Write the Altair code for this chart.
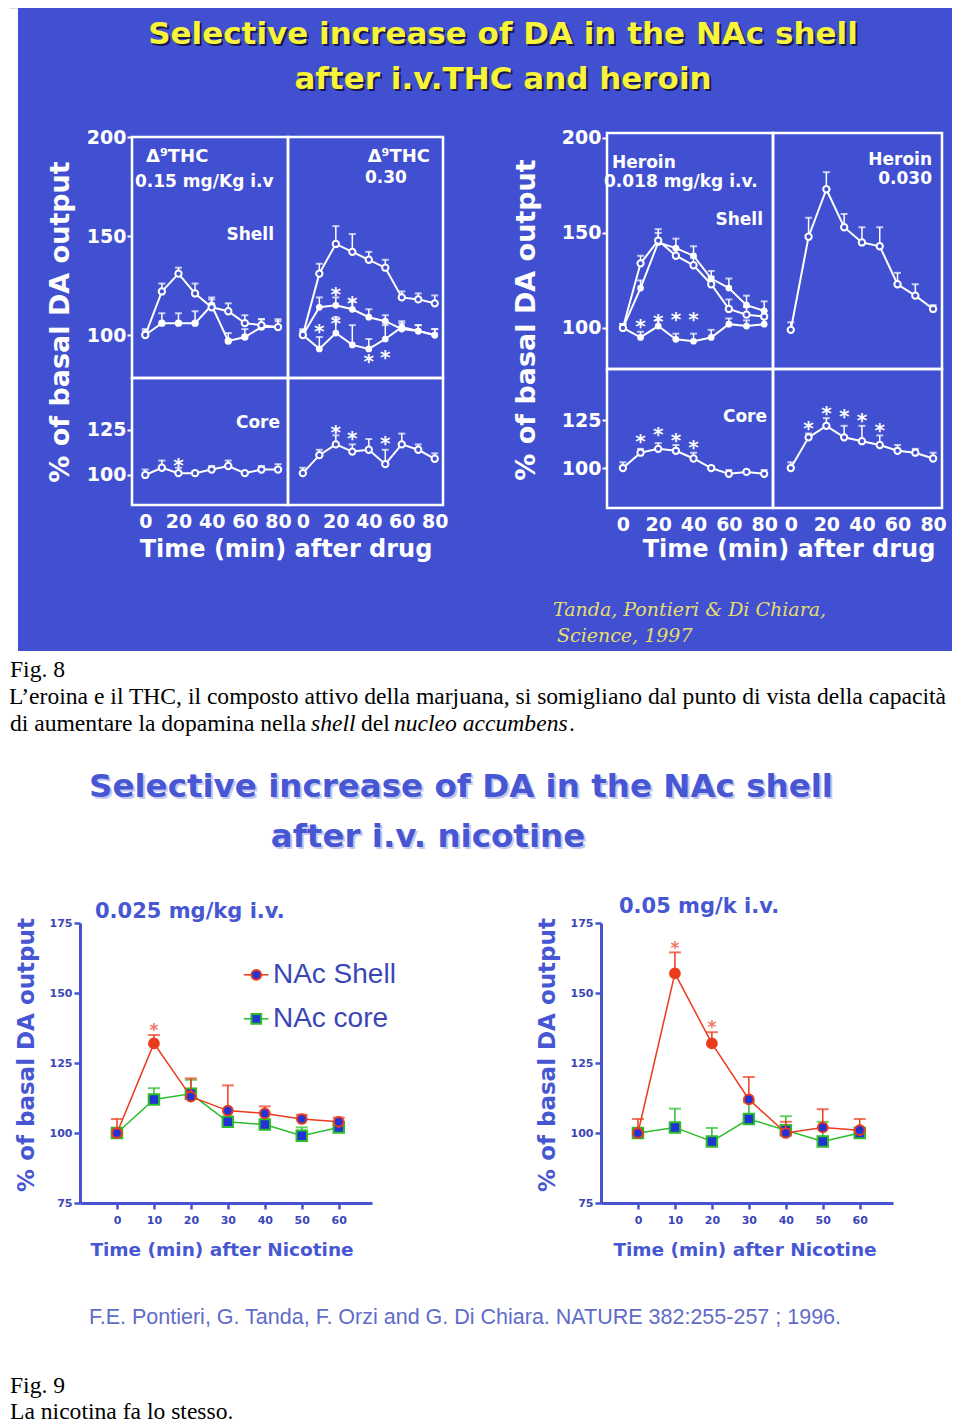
import altair as alt
import pandas as pd

W, H = 944, 1413

# ---------------------------------------------------------------- colours
BG_BLUE = "#4150d0"
WHITE = "#ffffff"
YELLOW = "#f8f43a"
SHADOW = "#1a1a4a"
CIT_YELLOW = "#e6de6c"
RED = "#ec3a1c"
GREEN = "#2bbd2b"
MARK_BLUE = "#2233d6"
AXIS_BLUE = "#4654d0"
LABEL_BLUE = "#3b46b6"
TITLE_BLUE = "#4757d3"
STAR_RED = "#f07a6a"
CITE_BLUE = "#5f6cc8"

# ---------------------------------------------------------------- Fig. 8 data
T_TOP = [0, 10, 20, 30, 40, 50, 60, 70, 80]
TOP_X_TICKS = [0, 20, 40, 60, 80]
SHELL_Y_TICKS = [100, 150, 200]
CORE_Y_TICKS = [100, 125]

THC15_SHELL_A = [100, 122, 131, 121, 114, 112, 106, 105, 104]
THC15_SHELL_A_ERR = [2, 4, 3, 5, 4, 4, 4, 3, 3]
THC15_SHELL_B = [100, 106, 106, 106, 115, 97, 99, 104, 104]
THC15_SHELL_B_ERR = [3, 5, 5, 6, 4, 4, 4, 4, 4]

THC30_SHELL_A = [100, 131, 146, 142, 138, 134, 119, 118, 116]
THC30_SHELL_A_ERR = [3, 5, 9, 9, 4, 4, 3, 3, 4]
THC30_SHELL_B = [100, 114, 115, 113, 109, 107, 103, 102, 100]
THC30_SHELL_B_ERR = [2, 5, 4, 4, 4, 3, 3, 3, 3]
THC30_SHELL_C = [100, 93, 101, 95, 93, 98, 104, 102, 100]
THC30_SHELL_C_ERR = [2, 6, 8, 10, 5, 7, 3, 3, 3]
THC30_SHELL_STAR_T = [10, 20, 20, 30, 40, 50]
THC30_SHELL_STAR_V = [105, 124, 109, 119, 90, 92]

HER18_SHELL_A = [100, 134, 146, 138, 133, 123, 110, 107, 106]
HER18_SHELL_A_ERR = [2, 4, 6, 4, 4, 4, 5, 4, 3]
HER18_SHELL_B = [100, 121, 145, 142, 138, 126, 121, 112, 109]
HER18_SHELL_B_ERR = [2, 4, 5, 5, 5, 4, 5, 5, 5]
HER18_SHELL_C = [100, 95, 101, 94, 93, 95, 102, 101, 102]
HER18_SHELL_C_ERR = [2, 3, 3, 3, 4, 4, 3, 3, 3]
HER18_SHELL_STAR_T = [10, 20, 30, 40]
HER18_SHELL_STAR_V = [104, 107, 108, 108]

HER30_SHELL = [99, 148, 173, 153, 145, 143, 123, 117, 110]
HER30_SHELL_ERR = [4, 10, 9, 7, 8, 10, 6, 6, 2]

THC15_CORE = [100, 104, 101, 101, 103, 105, 101, 103, 103]
THC15_CORE_ERR = [3, 4, 3, 1, 2, 3, 1, 2, 3]
THC15_CORE_STAR_T = [20]
THC15_CORE_STAR_V = [109]

THC30_CORE = [101, 111, 117, 113, 114, 106, 117, 114, 109]
THC30_CORE_ERR = [3, 3, 5, 4, 6, 8, 6, 3, 3]
THC30_CORE_STAR_T = [20, 30, 50]
THC30_CORE_STAR_V = [127, 124, 121]

HER18_CORE = [100, 108, 110, 109, 105, 100, 97, 98, 97]
HER18_CORE_ERR = [3, 2, 3, 3, 3, 1, 2, 1, 2]
HER18_CORE_STAR_T = [10, 20, 30, 40]
HER18_CORE_STAR_V = [117, 121, 118, 114]

HER30_CORE = [100, 116, 122, 116, 114, 112, 109, 108, 105]
HER30_CORE_ERR = [3, 2, 4, 6, 8, 5, 3, 2, 3]
HER30_CORE_STAR_T = [10, 20, 30, 40, 50]
HER30_CORE_STAR_V = [124, 132, 130, 128, 123]

# ---------------------------------------------------------------- Fig. 9 data
T_BOT = [0, 10, 20, 30, 40, 50, 60]
BOT_Y_TICKS = [75, 100, 125, 150, 175]

NIC25_SHELL = [100, 132, 113, 108, 107, 105, 104]
NIC25_SHELL_ERR = [5, 3, 6.5, 9, 2.5, 1.5, 1.5]
NIC25_SHELL_SIG = [False, True, False, False, False, False, False]
NIC25_CORE = [100, 112, 114, 104, 103, 99, 102]
NIC25_CORE_ERR = [0, 4, 5, 1, 1, 3, 1]
NIC25_STAR_T = [10]
NIC25_STAR_V = [138.5]

NIC50_SHELL = [100, 157, 132, 112, 100, 102, 101]
NIC50_SHELL_ERR = [5, 7.5, 4, 8, 4, 6.5, 4]
NIC50_SHELL_SIG = [False, True, True, False, False, False, False]
NIC50_CORE = [100, 102, 97, 105, 101, 97, 100]
NIC50_CORE_ERR = [0, 6.7, 4.8, 6, 5, 7, 0]
NIC50_STAR_T = [10, 20]
NIC50_STAR_V = [168, 139.5]

LEGEND_LABELS = ["NAc Shell", "NAc core"]

# ---------------------------------------------------------------- texts
TITLE_TOP = ["Selective increase of DA in the NAc shell", "after i.v.THC and heroin"]
TITLE_BOT = ["Selective increase of DA in the NAc shell", "after i.v. nicotine"]
Y_TITLE = "% of basal DA output"
X_TITLE_TOP = "Time (min) after drug"
X_TITLE_BOT = "Time (min) after Nicotine"
CITE_TOP = ["Tanda, Pontieri & Di Chiara,", "Science, 1997"]
CITE_BOT = "F.E. Pontieri, G. Tanda, F. Orzi and G. Di Chiara. NATURE 382:255-257 ; 1996."
CAPTION_8 = ["Fig. 8",
             "L\u2019eroina e il THC, il composto attivo della marjuana, si somigliano dal punto di vista della capacit\u00e0"]
CAPTION_8_L3 = ["di aumentare la dopamina nella", "shell", "del", "nucleo accumbens", "."]
CAPTION_9 = ["Fig. 9", "La nicotina fa lo stesso."]


# ---------------------------------------------------------------- helpers
def S(dom, rng):
    return alt.Scale(domain=dom, range=rng, zero=False, nice=False)


def txt(s, x, y, size, color, font="DejaVu Sans", weight="bold", align="left",
        angle=0, style="normal", baseline="middle"):
    return alt.Chart(pd.DataFrame({"s": [s]})).mark_text(
        align=align, baseline=baseline, fontSize=size, font=font, fontWeight=weight,
        fontStyle=style, color=color, angle=angle
    ).encode(text="s:N", x=alt.value(x), y=alt.value(y))


def series(t, v, e, xs, ys, marker, color=WHITE, lw=2, msize=40, cap=7,
           fill_marker=BG_BLUE, shape="circle"):
    d = pd.DataFrame({"t": t, "v": v, "hi": [a + b for a, b in zip(v, e)]})
    X = alt.X("t:Q", scale=xs, axis=None)
    Y = alt.Y("v:Q", scale=ys, axis=None)
    HI = alt.Y("hi:Q", scale=ys, axis=None)
    b = alt.Chart(d)
    out = [
        b.mark_rule(color=color, strokeWidth=1.5).encode(x=X, y=Y, y2="hi:Q"),
        b.mark_tick(color=color, orient="horizontal", size=cap, thickness=2).encode(x=X, y=HI),
        b.mark_line(color=color, strokeWidth=lw).encode(x=X, y=Y),
    ]
    if marker == "open":
        out.append(b.mark_point(shape=shape, filled=True, fill=fill_marker, stroke=color,
                                strokeWidth=2, size=msize, opacity=1).encode(x=X, y=Y))
    elif marker == "filled":
        out.append(b.mark_point(shape=shape, filled=True, color=color, size=msize,
                                opacity=1).encode(x=X, y=Y))
    return out


def stars(t, v, xs, ys, color=WHITE, size=20, dy=7):
    d = pd.DataFrame({"t": t, "v": v})
    return alt.Chart(d).mark_text(text="*", color=color, fontSize=size, fontWeight="bold",
                                  font="DejaVu Sans", baseline="middle", dy=dy).encode(
        x=alt.X("t:Q", scale=xs, axis=None), y=alt.Y("v:Q", scale=ys, axis=None))


def frame(xd, yd, xs, ys, xaxis=None, yaxis=None):
    d = pd.DataFrame({"x0": [xd[0]], "x1": [xd[1]], "y0": [yd[0]], "y1": [yd[1]]})
    return alt.Chart(d).mark_rect(fillOpacity=0, stroke=WHITE, strokeWidth=2.5).encode(
        x=alt.X("x0:Q", scale=xs, axis=xaxis), x2="x1:Q",
        y=alt.Y("y0:Q", scale=ys, axis=yaxis), y2="y1:Q")


def top_y_axis(values, xpix):
    return alt.Axis(orient="left", offset=-xpix, values=values, domain=False, ticks=True,
                    labels=True, tickColor=WHITE, tickSize=5, tickWidth=2, labelColor=WHITE,
                    labelFont="DejaVu Sans", labelFontWeight="bold", labelFontSize=19,
                    labelPadding=1, labelFlush=False, labelOverlap=False, grid=False,
                    title=None, zindex=2)


def top_x_axis(ypix):
    return alt.Axis(orient="bottom", offset=ypix - H, values=TOP_X_TICKS, domain=False,
                    ticks=False, labels=True, labelColor=WHITE, labelFont="DejaVu Sans",
                    labelFontWeight="bold", labelFontSize=19, labelPadding=7,
                    labelFlush=False, labelOverlap=False, grid=False, title=None, zindex=2)


def bot_axes(xpix, ypix):
    common = dict(domain=True, domainColor=AXIS_BLUE, domainWidth=3, ticks=True, labels=True,
                  tickColor=AXIS_BLUE, tickSize=6, tickWidth=2.5, labelColor=LABEL_BLUE,
                  labelFont="DejaVu Sans", labelFontWeight="bold", labelFontSize=11,
                  labelFlush=False, labelOverlap=False, grid=False, title=None, zindex=2)
    xa = alt.Axis(orient="bottom", offset=ypix - H, values=T_BOT, labelPadding=5, **common)
    ya = alt.Axis(orient="left", offset=-xpix, values=BOT_Y_TICKS, labelPadding=2, **common)
    return xa, ya


# ---------------------------------------------------------------- layout (pixel ranges)
XD_THC_L, XR_THC_L = [-8, 86], [124, 280]
XD_THC_R, XR_THC_R = [-9, 85], [280, 435]
YD_THC_SH, YR_THC_SH = [78.3, 200], [370, 129]
YD_THC_CO, YR_THC_CO = [83.3, 153.9], [497, 370]
XD_HER_L, XR_HER_L = [-9, 85], [599, 765]
XD_HER_R, XR_HER_R = [-10, 85], [765, 934]
YD_HER_SH, YR_HER_SH = [78.4, 202.6], [361, 125]
YD_HER_CO, YR_HER_CO = [79.2, 151.6], [500, 361]

xs_thc_l, xs_thc_r = S(XD_THC_L, XR_THC_L), S(XD_THC_R, XR_THC_R)
ys_thc_sh, ys_thc_co = S(YD_THC_SH, YR_THC_SH), S(YD_THC_CO, YR_THC_CO)
xs_her_l, xs_her_r = S(XD_HER_L, XR_HER_L), S(XD_HER_R, XR_HER_R)
ys_her_sh, ys_her_co = S(YD_HER_SH, YR_HER_SH), S(YD_HER_CO, YR_HER_CO)

XD_BOT = [-10, 69]
YD_BOT = [75, 175]
xs_nic25 = S(XD_BOT, [72, 364])
xs_nic50 = S(XD_BOT, [593, 885])
ys_bot = S(YD_BOT, [1195, 915])

layers = []

# ---------------------------------------------------------------- Fig. 8 (blue slide)
layers.append(alt.Chart(pd.DataFrame({"a": [0]})).mark_rect(color=BG_BLUE).encode(
    x=alt.value(10), x2=alt.value(W), y=alt.value(0), y2=alt.value(643)))

for line, yy in zip(TITLE_TOP, [27, 72]):
    layers.append(txt(line, 497, yy + 2, 31, SHADOW, align="center"))
    layers.append(txt(line, 495, yy, 31, YELLOW, align="center"))

# frames + axes
layers.append(frame(XD_THC_L, YD_THC_SH, xs_thc_l, ys_thc_sh, yaxis=top_y_axis(SHELL_Y_TICKS, 124)))
layers.append(frame(XD_THC_R, YD_THC_SH, xs_thc_r, ys_thc_sh))
layers.append(frame(XD_THC_L, YD_THC_CO, xs_thc_l, ys_thc_co,
                    xaxis=top_x_axis(497), yaxis=top_y_axis(CORE_Y_TICKS, 124)))
layers.append(frame(XD_THC_R, YD_THC_CO, xs_thc_r, ys_thc_co, xaxis=top_x_axis(497)))
layers.append(frame(XD_HER_L, YD_HER_SH, xs_her_l, ys_her_sh, yaxis=top_y_axis(SHELL_Y_TICKS, 599)))
layers.append(frame(XD_HER_R, YD_HER_SH, xs_her_r, ys_her_sh))
layers.append(frame(XD_HER_L, YD_HER_CO, xs_her_l, ys_her_co,
                    xaxis=top_x_axis(500), yaxis=top_y_axis(CORE_Y_TICKS, 599)))
layers.append(frame(XD_HER_R, YD_HER_CO, xs_her_r, ys_her_co, xaxis=top_x_axis(500)))

# THC series
layers += series(T_TOP, THC15_SHELL_B, THC15_SHELL_B_ERR, xs_thc_l, ys_thc_sh, "filled", msize=55)
layers += series(T_TOP, THC15_SHELL_A, THC15_SHELL_A_ERR, xs_thc_l, ys_thc_sh, "open")
layers += series(T_TOP, THC30_SHELL_C, THC30_SHELL_C_ERR, xs_thc_r, ys_thc_sh, "filled", msize=45)
layers += series(T_TOP, THC30_SHELL_B, THC30_SHELL_B_ERR, xs_thc_r, ys_thc_sh, "filled", msize=45)
layers += series(T_TOP, THC30_SHELL_A, THC30_SHELL_A_ERR, xs_thc_r, ys_thc_sh, "open")
layers.append(stars(THC30_SHELL_STAR_T, THC30_SHELL_STAR_V, xs_thc_r, ys_thc_sh))
layers += series(T_TOP, THC15_CORE, THC15_CORE_ERR, xs_thc_l, ys_thc_co, "open")
layers.append(stars(THC15_CORE_STAR_T, THC15_CORE_STAR_V, xs_thc_l, ys_thc_co))
layers += series(T_TOP, THC30_CORE, THC30_CORE_ERR, xs_thc_r, ys_thc_co, "open")
layers.append(stars(THC30_CORE_STAR_T, THC30_CORE_STAR_V, xs_thc_r, ys_thc_co))

# heroin series
layers += series(T_TOP, HER18_SHELL_C, HER18_SHELL_C_ERR, xs_her_l, ys_her_sh, "filled", msize=45)
layers += series(T_TOP, HER18_SHELL_B, HER18_SHELL_B_ERR, xs_her_l, ys_her_sh, "filled", msize=45)
layers += series(T_TOP, HER18_SHELL_A, HER18_SHELL_A_ERR, xs_her_l, ys_her_sh, "open")
layers.append(stars(HER18_SHELL_STAR_T, HER18_SHELL_STAR_V, xs_her_l, ys_her_sh))
layers += series(T_TOP, HER30_SHELL, HER30_SHELL_ERR, xs_her_r, ys_her_sh, "open")
layers += series(T_TOP, HER18_CORE, HER18_CORE_ERR, xs_her_l, ys_her_co, "open")
layers.append(stars(HER18_CORE_STAR_T, HER18_CORE_STAR_V, xs_her_l, ys_her_co))
layers += series(T_TOP, HER30_CORE, HER30_CORE_ERR, xs_her_r, ys_her_co, "open")
layers.append(stars(HER30_CORE_STAR_T, HER30_CORE_STAR_V, xs_her_r, ys_her_co))

# panel labels
layers += [
    txt("\u0394\u2079THC", 138, 149, 18, WHITE),
    txt("0.15 mg/Kg i.v", 127, 174, 17, WHITE),
    txt("Shell", 266, 227, 17, WHITE, align="right"),
    txt("\u0394\u2079THC", 422, 149, 18, WHITE, align="right"),
    txt("0.30", 357, 170, 17, WHITE),
    txt("Core", 272, 415, 17, WHITE, align="right"),
    txt("Heroin", 604, 155, 17, WHITE),
    txt("0.018 mg/kg i.v.", 596, 174, 17, WHITE),
    txt("Shell", 755, 212, 17, WHITE, align="right"),
    txt("Heroin", 924, 152, 17, WHITE, align="right"),
    txt("0.030", 924, 171, 17, WHITE, align="right"),
    txt("Core", 759, 409, 17, WHITE, align="right"),
]
layers += [
    txt(Y_TITLE, 53, 314, 27, WHITE, angle=270, align="center"),
    txt(Y_TITLE, 519, 312, 27, WHITE, angle=270, align="center"),
    txt(X_TITLE_TOP, 278, 542, 24, WHITE, align="center"),
    txt(X_TITLE_TOP, 781, 542, 24, WHITE, align="center"),
    txt(CITE_TOP[0], 545, 602, 19, CIT_YELLOW, font="DejaVu Serif", weight="normal", style="italic"),
    txt(CITE_TOP[1], 549, 628, 19, CIT_YELLOW, font="DejaVu Serif", weight="normal", style="italic"),
]

# ---------------------------------------------------------------- captions (black Times)
SERIF = "Liberation Serif"
CAP_SIZE = 23.6
CAP_X = 2
layers += [
    txt(CAPTION_8[0], CAP_X, 662, CAP_SIZE, "black", font=SERIF, weight="normal"),
    txt(CAPTION_8[1], CAP_X - 1, 689, CAP_SIZE, "black", font=SERIF, weight="normal"),
]
for part, x, st in zip(CAPTION_8_L3, [CAP_X, 303, 353, 386, 561],
                       ["normal", "italic", "normal", "italic", "normal"]):
    layers.append(txt(part, x, 716, CAP_SIZE, "black", font=SERIF, weight="normal", style=st))
layers += [
    txt(CAPTION_9[0], CAP_X, 1378, CAP_SIZE, "black", font=SERIF, weight="normal"),
    txt(CAPTION_9[1], CAP_X, 1404, CAP_SIZE, "black", font=SERIF, weight="normal"),
]

# ---------------------------------------------------------------- Fig. 9 (nicotine)
for line, yy, xx in zip(TITLE_BOT, [779, 829], [453, 420]):
    layers.append(txt(line, xx + 2, yy + 2, 32.5, "#c4c8ee", align="center"))
    layers.append(txt(line, xx, yy, 32.5, TITLE_BLUE, align="center"))


def nic_chart(xs, core, core_err, shell, shell_err, sig, star_t, star_v, xpix):
    out = []
    xa, ya = bot_axes(xpix, 1195)
    d = pd.DataFrame({"t": T_BOT, "v": core})
    out.append(alt.Chart(d).mark_line(opacity=0).encode(
        x=alt.X("t:Q", scale=xs, axis=xa), y=alt.Y("v:Q", scale=ys_bot, axis=ya)))
    out += series(T_BOT, core, core_err, xs, ys_bot, "open", color=GREEN, lw=1.5,
                  msize=110, cap=12, fill_marker=MARK_BLUE, shape="square")
    out += series(T_BOT, shell, shell_err, xs, ys_bot, None, color=RED, lw=1.5, cap=12)
    ds = pd.DataFrame({"t": T_BOT, "v": shell, "sig": sig})
    out.append(alt.Chart(ds).mark_point(shape="circle", filled=True, stroke=RED, strokeWidth=2,
                                        size=95, opacity=1).encode(
        x=alt.X("t:Q", scale=xs, axis=None), y=alt.Y("v:Q", scale=ys_bot, axis=None),
        fill=alt.Fill("sig:N", scale=alt.Scale(domain=[False, True], range=[MARK_BLUE, RED]),
                      legend=None)))
    out.append(stars(star_t, star_v, xs, ys_bot, color=STAR_RED, size=17, dy=6))
    return out


layers += nic_chart(xs_nic25, NIC25_CORE, NIC25_CORE_ERR, NIC25_SHELL, NIC25_SHELL_ERR,
                    NIC25_SHELL_SIG, NIC25_STAR_T, NIC25_STAR_V, 72)
layers += nic_chart(xs_nic50, NIC50_CORE, NIC50_CORE_ERR, NIC50_SHELL, NIC50_SHELL_ERR,
                    NIC50_SHELL_SIG, NIC50_STAR_T, NIC50_STAR_V, 593)

# legend (inside the 0.025 mg/kg panel, in its data coordinates)
LEG_X0, LEG_X1, LEG_XM, LEG_XT = 34.3, 41.0, 37.7, 42.2
LEG_Y = [156.5, 140.8]
leg = pd.DataFrame({"label": LEGEND_LABELS, "x0": [LEG_X0] * 2, "x1": [LEG_X1] * 2,
                    "xm": [LEG_XM] * 2, "xt": [LEG_XT] * 2, "y": LEG_Y})
lx = lambda f: alt.X(f, scale=xs_nic25, axis=None)
ly = alt.Y("y:Q", scale=ys_bot, axis=None)
layers += [
    alt.Chart(leg).mark_rule(strokeWidth=1.5).encode(
        x=lx("x0:Q"), x2="x1:Q", y=ly,
        color=alt.Color("label:N", scale=alt.Scale(domain=LEGEND_LABELS, range=[RED, GREEN]), legend=None)),
    alt.Chart(leg).mark_point(filled=True, fill=MARK_BLUE, strokeWidth=2, size=95, opacity=1).encode(
        x=lx("xm:Q"), y=ly,
        stroke=alt.Stroke("label:N", scale=alt.Scale(domain=LEGEND_LABELS, range=[RED, GREEN]), legend=None),
        shape=alt.Shape("label:N", scale=alt.Scale(domain=LEGEND_LABELS, range=["circle", "square"]), legend=None)),
    alt.Chart(leg).mark_text(align="left", baseline="middle", fontSize=28, font="Liberation Sans",
                             color=LABEL_BLUE).encode(x=lx("xt:Q"), y=ly, text="label:N"),
]

layers += [
    txt("0.025 mg/kg i.v.", 87, 904, 21, TITLE_BLUE),
    txt("0.05 mg/k i.v.", 611, 899, 21, TITLE_BLUE),
    txt(Y_TITLE, 19, 1047, 23, TITLE_BLUE, angle=270, align="center"),
    txt(Y_TITLE, 540, 1047, 23, TITLE_BLUE, angle=270, align="center"),
    txt(X_TITLE_BOT, 214, 1242, 18.5, TITLE_BLUE, align="center"),
    txt(X_TITLE_BOT, 737, 1242, 18.5, TITLE_BLUE, align="center"),
    txt(CITE_BOT, 457, 1310, 21.5, CITE_BLUE, font="Liberation Sans", weight="normal", align="center"),
]

# white margin strip along the left page edge (drawn last)
layers.append(alt.Chart(pd.DataFrame({"a": [0]})).mark_rect(color="white").encode(
    x=alt.value(0), x2=alt.value(1.6), y=alt.value(0), y2=alt.value(H)))

chart = alt.layer(*layers).resolve_scale(
    x="independent", y="independent", color="independent", fill="independent",
    stroke="independent", shape="independent"
).resolve_axis(x="independent", y="independent").properties(
    width=W, height=H, autosize=alt.AutoSizeParams(type="none"), padding=0
).configure_view(stroke="transparent", strokeWidth=0).configure_axis(
    domain=False, ticks=False, labels=False, grid=False
).configure(background="white")

chart.save("out.html", embed_options={"renderer": "svg", "actions": False})
